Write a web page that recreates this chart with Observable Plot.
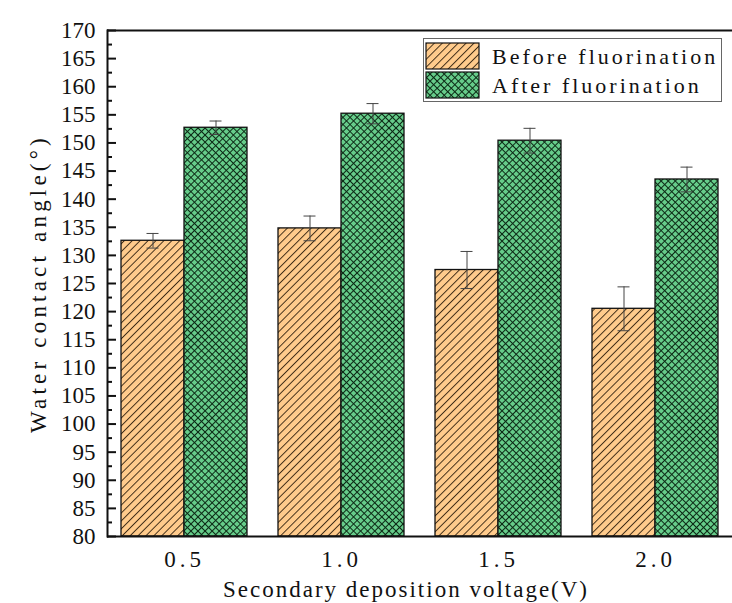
<!DOCTYPE html>
<html>
<head>
<meta charset="utf-8">
<script src="https://cdn.jsdelivr.net/npm/d3@7"></script>
<script src="https://cdn.jsdelivr.net/npm/@observablehq/plot@0.6"></script>
<style>
  body { margin: 0; background: #fff; }
  #wrap { position: relative; width: 732px; height: 603px; }
  svg text { font-family: "Liberation Serif", "DejaVu Serif", serif; fill: #111; }
  g[aria-label="x-axis tick label"] text { letter-spacing: 4px; }
  .xlbl text, .xlbl { letter-spacing: 2px; }
  .ylbl text, .ylbl { letter-spacing: 4.2px; }
  #legend { position: absolute; left: 423px; top: 38px; }
</style>
</head>
<body>
<div id="wrap"></div>
<script>
const voltages = ["0.5", "1.0", "1.5", "2.0"];
const before = [132.6, 134.8, 127.4, 120.5];
const beforeErr = [1.3, 2.2, 3.3, 3.9];
const after = [152.7, 155.2, 150.4, 143.5];
const afterErr = [1.2, 1.8, 2.2, 2.2];
const yTicks = [80, 85, 90, 95, 100, 105, 110, 115, 120, 125, 130, 135, 140, 145, 150, 155, 160, 165, 170];
const yMinor = [82.5, 87.5, 92.5, 97.5, 102.5, 107.5, 112.5, 117.5, 122.5, 127.5, 132.5, 137.5, 142.5, 147.5, 152.5, 157.5, 162.5, 167.5];
const seriesNames = ["Before fluorination", "After fluorination"];
const xTitle = "Secondary deposition voltage(V)";
const yTitle = "Water contact angle(°)";

const rows = voltages.map((v, i) => ({
  v, before: before[i], bLo: before[i] - beforeErr[i], bHi: before[i] + beforeErr[i],
  after: after[i], aLo: after[i] - afterErr[i], aHi: after[i] + afterErr[i]
}));

const half = 63, off = 31.5, cap = 6;
const errStroke = "#444";

const chart = Plot.plot({
  width: 732, height: 603,
  marginTop: 30, marginBottom: 67, marginLeft: 107, marginRight: 0,
  style: { fontFamily: "Liberation Serif, serif", fontSize: "23px", background: "#fff" },
  x: { domain: voltages, paddingInner: 0.1975, paddingOuter: 0.089, axis: null },
  y: { domain: [80, 170], axis: null },
  marks: [
    Plot.barY(rows, { x: "v", y1: 80, y2: "before", insetRight: half, fill: "url(#hatchOrange)", stroke: "#111", strokeWidth: 1.3 }),
    Plot.barY(rows, { x: "v", y1: 80, y2: "after", insetLeft: half, fill: "url(#hatchGreen)", stroke: "#111", strokeWidth: 1.3 }),
    Plot.ruleX(rows, { x: "v", y1: "bLo", y2: "bHi", dx: -off, stroke: errStroke, strokeWidth: 1 }),
    Plot.ruleX(rows, { x: "v", y1: "aLo", y2: "aHi", dx: off, stroke: errStroke, strokeWidth: 1 }),
    Plot.tickY(rows, { x: "v", y: "bLo", insetLeft: off - cap, insetRight: 2 * half - off - cap, stroke: errStroke, strokeWidth: 1 }),
    Plot.tickY(rows, { x: "v", y: "bHi", insetLeft: off - cap, insetRight: 2 * half - off - cap, stroke: errStroke, strokeWidth: 1 }),
    Plot.tickY(rows, { x: "v", y: "aLo", insetLeft: 2 * half - off - cap, insetRight: off - cap, stroke: errStroke, strokeWidth: 1 }),
    Plot.tickY(rows, { x: "v", y: "aHi", insetLeft: 2 * half - off - cap, insetRight: off - cap, stroke: errStroke, strokeWidth: 1 }),
    Plot.ruleY([170], { stroke: "#111", strokeWidth: 2 }),
    Plot.ruleY([80], { stroke: "#111", strokeWidth: 2 }),
    Plot.frame({ anchor: "left", stroke: "#111", strokeWidth: 2 }),
    Plot.axisY(yTicks, { anchor: "left", tickSize: -9, tickPadding: 21, strokeWidth: 2, stroke: "#111", fontSize: 23 }),
    Plot.axisY(yMinor, { anchor: "left", tickSize: -5, text: null, strokeWidth: 2, stroke: "#111" }),
    Plot.axisX({ anchor: "bottom", tickSize: 0, tickPadding: 14, fontSize: 23, label: null }),
    Plot.text([xTitle], { text: d => d, frameAnchor: "bottom", textAnchor: "middle", dy: 60, dx: -14, fontSize: 23, className: "xlbl" }),
    Plot.text([yTitle], { text: d => d, frameAnchor: "left", textAnchor: "middle", lineAnchor: "middle", rotate: -90, dx: -69, dy: 0, fontSize: 23, className: "ylbl" })
  ]
});

const defs = `
<pattern id="hatchOrange" patternUnits="userSpaceOnUse" width="5.6" height="10" patternTransform="rotate(45)">
  <rect width="5.6" height="10" fill="#FFCB8C"/>
  <line x1="0.5" y1="0" x2="0.5" y2="10" stroke="#2a1a0a" stroke-width="0.9"/>
</pattern>
<pattern id="hatchGreen" patternUnits="userSpaceOnUse" width="5" height="5" patternTransform="rotate(45)">
  <rect width="5" height="5" fill="#66CC8A"/>
  <line x1="0.5" y1="0" x2="0.5" y2="5" stroke="#0d2a16" stroke-width="1"/>
  <line x1="0" y1="0.5" x2="5" y2="0.5" stroke="#0d2a16" stroke-width="1"/>
</pattern>`;
d3.select(chart).insert("defs", ":first-child").html(defs);

const wrap = document.getElementById("wrap");
wrap.appendChild(chart);

// Legend overlay
const lg = d3.select(wrap).append("svg").attr("id", "legend").attr("width", 300).attr("height", 64);
lg.append("defs").html(defs.replace(/hatchOrange/g, "lgO").replace(/hatchGreen/g, "lgG"));
lg.append("rect").attr("x", 0.5).attr("y", 0.5).attr("width", 298).attr("height", 63)
  .attr("fill", "#fff").attr("stroke", "#666").attr("stroke-width", 1);
const fills = ["url(#lgO)", "url(#lgG)"];
seriesNames.forEach((name, i) => {
  lg.append("rect").attr("x", 3).attr("y", 5 + i * 29).attr("width", 53).attr("height", 26)
    .attr("fill", fills[i]).attr("stroke", "#111").attr("stroke-width", 1.2);
  lg.append("text").attr("x", 69).attr("y", 26 + i * 29).text(name)
    .attr("font-size", 22).attr("letter-spacing", "3px")
    .style("font-family", "Liberation Serif, serif").attr("fill", "#111");
});
</script>
</body>
</html>
